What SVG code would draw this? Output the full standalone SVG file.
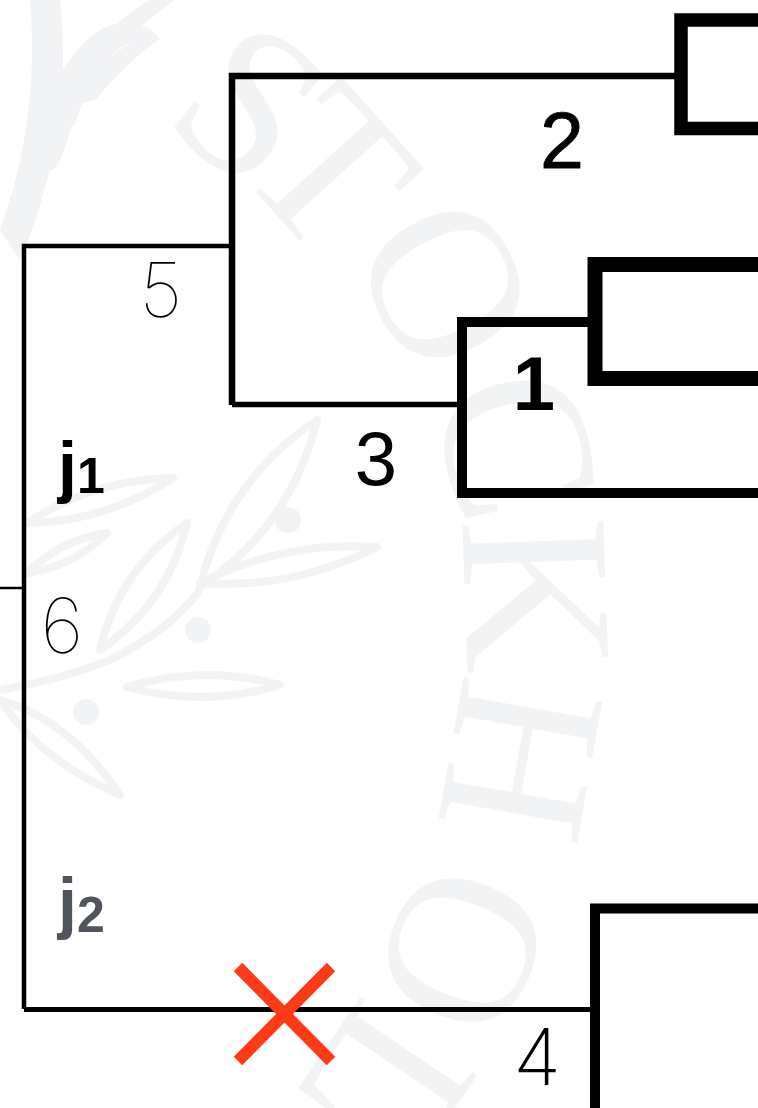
<svg xmlns="http://www.w3.org/2000/svg" width="758" height="1108" viewBox="0 0 758 1108">
<style>
.wm{font-family:"Liberation Serif",serif;font-size:215px;fill:#f2f3f5}
.leaf{fill:none;stroke:#f2f3f5;stroke-width:8;stroke-linejoin:round}
.dot{fill:#f2f3f5}
.ln{fill:none;stroke:#000;stroke-linecap:butt;stroke-linejoin:miter}
.lbl{font-family:"Liberation Sans",Arial,sans-serif;fill:#000}
.thin{font-family:"Inter","Liberation Sans",sans-serif;font-weight:100;fill:#000}
</style>
<rect width="758" height="1108" fill="#fff"/>
<g id="watermark">
<text class="wm" text-anchor="middle" transform="translate(250,104) rotate(38)" y="70">S</text>
<text class="wm" text-anchor="middle" transform="translate(330,170) rotate(48)" y="70">T</text>
<text class="wm" text-anchor="middle" transform="translate(445,285) rotate(62)" y="70">O</text>
<text class="wm" text-anchor="middle" transform="translate(515,445) rotate(76)" y="70">C</text>
<text class="wm" text-anchor="middle" transform="translate(535,595) rotate(88)" y="70">K</text>
<text class="wm" text-anchor="middle" transform="translate(520,760) rotate(100)" y="70">H</text>
<text class="wm" text-anchor="middle" transform="translate(462,950) rotate(112)" y="70">O</text>
<text class="wm" text-anchor="middle" transform="translate(385,1085) rotate(124)" y="70">L</text>
<path class="leaf" d="M27 523 Q106.5 521.5 173 478 Q93.5 479.5 27 523Z"/>
<path class="leaf" d="M27 573 Q73.7 566.4 107 533 Q60.3 539.6 27 573Z"/>
<path class="leaf" d="M100 650 Q168 603.5 187 523 Q119 569.5 100 650Z"/>
<path class="leaf" d="M200 587 Q291 526.5 317 420 Q226 480.5 200 587Z"/>
<path class="leaf" d="M200 583 Q293.5 589.5 377 547 Q283.5 540.5 200 583Z"/>
<path class="leaf" d="M127 687 Q203.5 708 280 685 Q203.5 664 127 687Z"/>
<path class="leaf" d="M0 700 Q40 760 120 795 Q70 720 0 700Z"/>
<path class="leaf" d="M0 690 Q60 680 110 660 Q170 630 200 590"/>
<circle class="dot" cx="288" cy="520" r="13"/>
<circle class="dot" cx="198" cy="630" r="13"/>
<circle class="dot" cx="86" cy="712" r="13"/>
<path class="dot" d="M0 230 Q40 120 30 0 L60 0 Q75 130 20 260Z"/>
<path class="dot" d="M55 130 Q80 40 150 0 L175 0 Q90 60 75 125Z"/>
<path class="dot" d="M32 130 Q70 40 110 25 Q150 20 160 40 Q110 30 75 110 Q60 180 45 170Z"/>
<path class="dot" d="M75 105 Q120 30 160 38 Q130 60 95 100Z"/>
</g>
<g id="connectors">
<path class="ln" d="M0 588 H23" stroke-width="2.5"/>
<path class="ln" d="M24 1009 V246 H232" stroke-width="4.5"/>
<path class="ln" d="M24 1009.5 H595" stroke-width="5"/>
<path class="ln" d="M232 405 V76 H681" stroke-width="6.5"/>
<path class="ln" d="M232 404.5 H462" stroke-width="5.5"/>
</g>
<g id="node-top">
<path class="ln" d="M758 20 H681 V128.5 H758" stroke-width="13.5"/>
</g>
<g id="node-mid">
<path class="ln" d="M592 322 H462 V493 H758" stroke-width="10"/>
</g>
<g id="node-sub">
<path class="ln" d="M758 264.5 H595 V378.5 H758" stroke-width="15"/>
</g>
<g id="node-bottom">
<path class="ln" d="M758 908.5 H595 V1110" stroke-width="10"/>
</g>
<g id="labels">
<text class="lbl" x="562" y="168" font-size="79" text-anchor="middle" stroke="#000" stroke-width="0.8">2</text>
<text class="lbl" x="534" y="410" font-size="76" font-weight="bold" text-anchor="middle">1</text>
<text class="lbl" x="376" y="485" font-size="76" text-anchor="middle">3</text>
<text class="thin" x="161" y="317" font-size="76" text-anchor="middle">5</text>
<text class="thin" x="62" y="653" font-size="76" text-anchor="middle">6</text>
<text class="thin" x="537" y="1085" font-size="78" text-anchor="middle" style="font-weight:200">4</text>
<text class="lbl" x="58" y="490" font-size="68" font-weight="bold">j<tspan font-size="50" y="493">1</tspan></text>
<text class="lbl" x="58" y="926" font-size="68" font-weight="bold" style="fill:#50555b">j<tspan font-size="50" y="932">2</tspan></text>
</g>
<g id="cross">
<path d="M238 967 L331 1061 M331 967 L238 1061" stroke="#ff3a16" stroke-width="12" fill="none"/>
</g>
</svg>
